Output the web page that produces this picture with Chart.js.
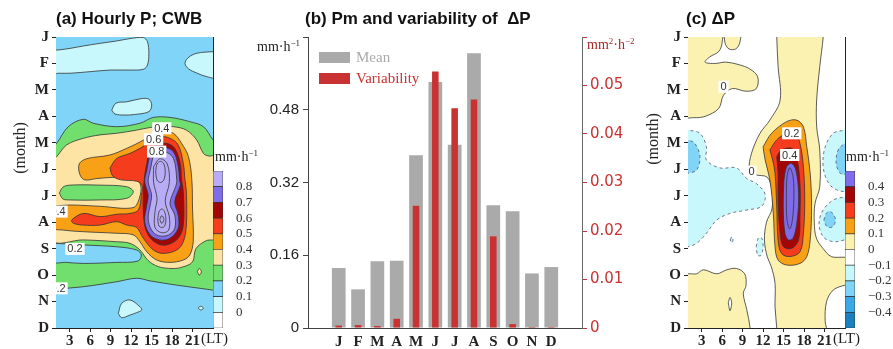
<!DOCTYPE html>
<html>
<head>
<meta charset="utf-8">
<script src="https://cdn.jsdelivr.net/npm/chart.js@4.4.1/dist/chart.umd.min.js"></script>
<style>
  body { margin:0; background:#fff; width:893px; height:349px; overflow:hidden; position:relative; font-family:'Liberation Serif', serif; }
  canvas { position:absolute; left:0; top:0; }
  .t { position:absolute; white-space:nowrap; color:#222; line-height:1; }
  .ttl { font-family:'Liberation Sans Narrow','Liberation Sans',sans-serif; font-weight:bold; font-size:17px; color:#111; }
  .unit { font-size:14px; }
  sup { font-size:9px; vertical-align:5px; line-height:0; }
</style>
</head>
<body>
<canvas id="mapA" width="893" height="349"></canvas>
<canvas id="barA" width="893" height="349"></canvas>
<canvas id="bars" width="893" height="349"></canvas>
<canvas id="mapC" width="893" height="349"></canvas>
<canvas id="barC" width="893" height="349"></canvas>

<div class="t ttl" style="left:56px;top:10px">(a) Hourly P; CWB</div>
<div class="t ttl" style="left:305px;top:10px">(b) Pm and variability of&nbsp; ΔP</div>
<div class="t ttl" style="left:686px;top:10px">(c) ΔP</div>
<div class="t" style="left:-30px;top:140px;width:100px;text-align:center;transform:rotate(-90deg);font-size:16px">(month)</div>
<div class="t" style="left:603px;top:131px;width:100px;text-align:center;transform:rotate(-90deg);font-size:16px">(month)</div>
<div class="t" style="left:201px;top:331px;font-size:15px">(LT)</div>
<div class="t" style="left:833px;top:331px;font-size:15px">(LT)</div>
<div class="t unit" style="left:215px;top:150px">mm·h<sup>−1</sup></div>
<div class="t unit" style="left:846px;top:150px">mm·h<sup>−1</sup></div>
<div class="t unit" style="left:257px;top:40px">mm·h<sup>−1</sup></div>
<div class="t unit" style="left:587px;top:38px;color:#a82828">mm<sup>2</sup>·h<sup>−2</sup></div>

<script>
// ---- panel (b) data ----
const months = ['J','F','M','A','M','J','J','A','S','O','N','D']
const meanP = [0.132, 0.085, 0.147, 0.148, 0.38, 0.541, 0.403, 0.604, 0.27, 0.257, 0.12, 0.134]
const varP = [0.0005, 0.0006, 0.0004, 0.0019, 0.0252, 0.0529, 0.0453, 0.0471, 0.0189, 0.0008, 0.0002, 0.0002]
const meanTicks = [0, 0.16, 0.32, 0.48, 0.64]
const varTicks = [0, 0.01, 0.02, 0.03, 0.04, 0.05, 0.06]

// ---- contour maps: x = local hour, y = month index (0 = Jan) ----
const hourTicks = [3, 6, 9, 12, 15, 18, 21]
const levelsA = [0, 0.1, 0.2, 0.3, 0.4, 0.5, 0.6, 0.7, 0.8]
const colorsA = ['#ffffff','#c8f8fb','#80d4f7','#70df6e','#fde4a4','#f8a016','#f53c1c','#a20606','#7f6ce8','#b8acf6']
const levelsC = [-0.4, -0.3, -0.2, -0.1, 0, 0.1, 0.2, 0.3, 0.4]
const colorsC = ['#1b7fc0','#3da8e6','#80d4f7','#c8f8fb','#ffffff','#fbf2b2','#f8a016','#f53c1c','#a20606','#7f6ce8']

// (a) hourly precipitation, contour outlines [hour, month]
const aFrame = [[0,-1],[25,-1],[25,12],[0,12]]
const aLow1 = [[0.5,0.5],[1.34,0.49],[3.05,0.43],[5.0,0.34],[7.45,0.24],[9.9,0.15],[11.84,0.06],[13.8,0.02],[14.4,0.18],[14.6,0.62],[14.4,1.06],[13.8,1.22],[11.84,1.25],[8.9,1.25],[6.0,1.31],[3.05,1.37],[1.34,1.37],[0.5,1.38]]
const aLow2 = [[24.5,0.55],[22.5,0.58],[21.2,0.65],[20.3,0.8],[19.9,1.0],[20.4,1.2],[21.6,1.36],[23.1,1.5],[24.5,1.52]]
const aLow3 = [[9.16,2.76],[9.8,2.5],[11.36,2.45],[13.5,2.33],[14.6,2.35],[15.02,2.57],[14.6,2.82],[12.5,2.93],[11,2.95],[9.64,2.91]]
const aLow4 = [[10.13,10.45],[10.62,10.07],[11.84,9.94],[13.3,10.2],[13.55,10.32],[12.8,10.42],[11.84,10.51],[10.62,10.61]]
const aLow5 = [[21.8,10.25],[22.2,10.18],[22.6,10.25],[22.2,10.32]]
const aGreen = [[0.5,4.1],[1,4.05],[2.8,3.39],[5.0,3.11],[6.46,3.26],[9.9,3.39],[13.3,3.26],[15.25,3.04],[17.7,3.04],[20.6,3.2],[22.6,3.39],[24,3.89],[24.5,4.0],[24.5,9.6],[24,9.57],[22.1,9.5],[18.7,9.38],[14.8,9.22],[12.8,9.12],[9.9,9.25],[5.0,9.44],[1,9.53],[0.5,9.55]]
const aBand = [[0.5,7.8],[2.5,7.82],[5,7.86],[9.9,7.93],[12.8,8.05],[13.5,8.24],[13.0,8.47],[9.9,8.52],[5,8.56],[2.5,8.52],[0.5,8.49]]
const aBeige = [[0.5,4.6],[1,4.55],[2.56,4.08],[5.0,3.83],[7.45,3.7],[9.9,3.64],[12.8,3.52],[14.8,3.42],[16.2,3.39],[18.2,3.39],[20.1,3.52],[21.6,3.89],[22.6,4.4],[23.4,4.5],[24.5,4.5],[24.5,7.6],[23,7.7],[21.5,8.0],[21,8.5],[19.5,8.7],[18,8.75],[16,8.68],[14.5,8.45],[13.3,8.05],[11.84,7.8],[9.9,7.74],[5,7.67],[0.5,7.67]]
const aStripe = [[1.5,5.9],[2,5.68],[3.05,5.6],[7.45,5.6],[11.35,5.66],[12.33,5.85],[11.35,6.1],[7.45,6.16],[3.05,6.16],[2,6.12]]
const aBeigeDot = [[21.7,8.87],[22.0,8.75],[22.3,8.87],[22.0,9.0]]
const aOrange = [[0.5,6.4],[3,6.35],[7.5,6.4],[12.3,6.45],[13.2,6.1],[13.4,5.6],[12.5,5.35],[10,5.3],[7,5.35],[5.2,5.4],[4.5,5.2],[4.4,4.8],[5.5,4.6],[8.9,4.46],[11.35,4.21],[13.8,3.9],[15.3,3.64],[16.7,3.58],[18.2,3.64],[19.4,4.02],[20.4,4.52],[20.9,5.4],[21.0,6.5],[21.1,7.74],[20.6,8.24],[19.65,8.43],[17.7,8.52],[15.75,8.43],[14.3,8.12],[13.3,7.74],[12.33,7.48],[9.9,7.42],[5,7.36],[2.07,7.3],[0.5,7.2]]
const aRed = [[8.9,4.95],[9.9,4.59],[11.84,4.4],[13.3,4.21],[14.5,4.02],[16.2,3.77],[17.7,3.83],[18.9,4.08],[19.65,4.78],[19.9,5.41],[20.1,5.85],[20.1,7.11],[19.65,7.74],[18.7,8.05],[16.7,8.18],[15.25,8.05],[13.8,7.61],[12.8,7.2],[11.35,7.11],[9.9,6.98],[7.45,7.11],[5.0,7.11],[3.54,7.04],[3.3,6.92],[5.0,6.67],[7.45,6.79],[9.9,6.7],[11.84,6.67],[13.06,6.54],[13.5,6.0],[13.6,5.6],[12.8,5.45],[10.5,5.4],[9.3,5.25]]
const aDark = [[14.3,4.78],[14.8,4.27],[15.75,4.08],[17.2,4.02],[18.4,4.21],[19.2,4.78],[19.4,5.41],[19.65,5.85],[19.65,7.11],[18.9,7.61],[17.2,7.86],[15.75,7.8],[14.5,7.48],[13.9,6.98],[13.8,5.85],[14.0,5.22]]
const aPurple = [[14.3,5.03],[14.8,4.4],[15.25,4.21],[16.7,4.15],[18.2,4.34],[18.9,4.9],[19.1,5.41],[19.2,5.6],[18.4,6.22],[18.9,6.73],[18.9,7.23],[17.7,7.61],[16.2,7.67],[14.8,7.48],[14.0,6.98],[14.3,6.35],[14.5,5.97],[14.0,5.47]]
const aLilac = [[14.8,5.03],[15.5,4.4],[16.97,4.34],[18.2,4.59],[18.7,5.41],[18.6,5.6],[17.7,6.29],[18.4,6.73],[18.4,7.23],[17.5,7.48],[16,7.51],[15,7.3],[14.5,6.86],[14.8,6.35],[15,5.97],[14.5,5.47]]
const aPeak1 = [[15.3,4.9],[16.2,4.6],[17.3,4.8],[17.6,5.5],[17.0,6.2],[17.6,6.8],[17.5,7.3],[16.5,7.4],[15.5,7.2],[15.5,6.6],[15.8,6.1],[15.3,5.5]]
const aPeak2 = [[15.6,5.1],[15.8,4.8],[16.3,4.7],[16.8,4.8],[17.0,5.1],[16.8,5.4],[16.3,5.5],[15.8,5.4]]
const aPeak3 = [[15.9,6.9],[16.1,6.6],[16.5,6.5],[16.9,6.6],[17.1,6.9],[16.9,7.15],[16.5,7.2],[16.1,7.15]]
const aPeak4 = [[16.2,6.9],[16.5,6.75],[16.8,6.9],[16.5,7.05]]
const aLabels = [{t:'0.4',h:16.5,m:3.45},{t:'0.6',h:15.3,m:3.87},{t:'0.8',h:15.75,m:4.33},{t:'0.4',h:1.3,m:6.6},{t:'0.2',h:3.78,m:8.01},{t:'0.2',h:1.3,m:9.5}]

// (c) Delta P, contour outlines [hour, month]
const cFrame = [[0,-1],[25,-1],[25,12],[0,12]]
const cPos1 = [[0.5,-0.5],[5.9,-0.5],[6.0,0.2],[5.5,0.55],[4.2,0.75],[3.5,0.95],[5.0,1.0],[6.5,0.95],[8.5,1.05],[10.0,1.2],[11.2,1.5],[11.0,1.95],[9.5,2.05],[7.5,1.95],[6.2,2.2],[5.5,2.7],[3.5,3.0],[1.8,3.05],[0.5,3.0]]
const cPos2 = [[6.3,-0.5],[6.4,0.2],[7.0,0.45],[8.0,0.45],[8.6,0.2],[8.7,-0.5]]
const cPos3 = [[14.0,-0.5],[14.0,0],[14.2,1.12],[14.5,2.38],[13.0,3.14],[11.55,3.64],[10.3,4.4],[10.0,5.0],[10.8,5.2],[12.6,5.3],[13.3,5.8],[13.3,6.5],[12.5,7.0],[12.2,7.67],[12.6,8.3],[13.2,8.68],[13.75,9.31],[13.75,10.2],[14.0,11.0],[14.0,11.5],[21.5,11.5],[21.1,10.76],[21.3,10.0],[22.3,9.56],[24.0,9.38],[24.5,9.38],[24.5,8.4],[22,8.3],[20.8,8.0],[19.8,7.6],[19.5,7.0],[19.6,6.3],[20.3,5.66],[20.3,4.27],[19.85,3.39],[19.85,2.38],[20.3,1.12],[20.8,0],[20.8,-0.5]]
const cPos4 = [[0.5,9.0],[1,8.95],[2.27,8.95],[3.25,8.8],[5.2,8.95],[6.7,8.8],[8.1,8.75],[9.3,8.95],[9.5,9.4],[9.1,9.69],[9.6,10.3],[10.1,11.0],[10.1,11.5],[0.5,11.5]]
const cHole = [[6.9,10.05],[7.15,9.85],[7.4,10.05],[7.15,10.35]]
const cNeg1 = [[0.5,3.5],[1,3.52],[2.75,3.64],[3.7,4.15],[3.7,4.65],[5.7,4.95],[8.1,4.95],[9.6,5.35],[11.06,5.55],[12.3,5.95],[11.8,6.4],[9.6,6.54],[7.15,6.67],[5.2,6.92],[3.7,7.42],[2.27,7.8],[1,7.93],[0.5,7.95]]
const cNeg1b = [[0.5,3.85],[1,3.89],[2.0,4.02],[2.75,4.52],[2.27,5.03],[1,5.15],[0.5,5.15]]
const cNeg2 = [[24.5,3.5],[24,3.52],[22.3,3.64],[21.1,4.15],[20.8,4.9],[21.6,5.53],[22.8,5.78],[24,5.85],[24.5,5.85]]
const cNeg2b = [[24.5,4.0],[24,4.02],[23.0,4.27],[22.7,4.78],[23.3,5.15],[24,5.2],[24.5,5.2]]
const cNeg3 = [[24.5,6.0],[24,6.04],[22.3,6.16],[20.8,6.54],[20.2,7.04],[20.8,7.55],[22.3,7.74],[24,7.67],[24.5,7.67]]
const cNeg3b = [[20.9,6.92],[21.3,6.65],[21.8,6.6],[22.3,6.7],[22.6,6.92],[22.3,7.15],[21.8,7.2],[21.3,7.15]]
const cNeg4 = [[7.2,7.67],[7.4,7.55],[7.6,7.67],[7.4,7.78]]
const cNeg5 = [[11.0,7.93],[11.3,7.6],[11.8,7.6],[12.0,7.93],[11.7,8.25],[11.2,8.25]]
const cOrange = [[12.0,4.15],[13.25,3.64],[15.45,3.2],[16.9,3.14],[17.9,3.39],[18.4,4.15],[18.9,5.15],[19.1,6.41],[18.9,7.67],[18.4,8.3],[17.4,8.56],[15.45,8.62],[14.2,8.43],[13.75,7.93],[13.5,6.67],[13.0,5.41],[12.3,4.65]]
const cRed = [[13.0,4.27],[14.0,3.89],[15.45,3.64],[16.7,3.64],[17.4,4.02],[17.9,4.9],[18.1,6.16],[17.9,7.42],[17.4,8.12],[15.9,8.3],[14.7,8.18],[14.2,7.67],[14.0,6.41],[13.75,5.15],[13.4,4.65]]
const cDark = [[14.0,4.52],[14.7,4.27],[16.2,4.21],[16.9,4.52],[17.4,5.53],[17.4,6.79],[17.2,7.67],[16.2,7.99],[15.0,7.93],[14.5,7.42],[14.2,6.16],[14.2,5.15]]
const cPurple = [[15.05,5.41],[15.45,4.9],[16.2,4.78],[16.8,5.03],[17.2,5.91],[17.0,6.92],[16.4,7.61],[15.7,7.67],[15.2,7.42],[14.95,6.41]]
const cPeak = [[15.4,6.1],[15.5,5.3],[15.9,4.95],[16.4,5.3],[16.5,6.1],[16.3,6.9],[15.9,7.25],[15.5,6.9]]
const cLabels = [{t:'0.2',h:16.2,m:3.64},{t:'0.4',h:15.9,m:4.46},{t:'0',h:6.2,m:1.88},{t:'0',h:10.3,m:5.09}]

// which colour band each outline fills (index into colorsA / colorsC), drawn in this order
const layersA = [
  {pts:aFrame, lev:2, lw:0, tension:0},
  {pts:aLow1, lev:1}, {pts:aLow2, lev:1}, {pts:aLow3, lev:1}, {pts:aLow4, lev:1}, {pts:aLow5, lev:1},
  {pts:aGreen, lev:3}, {pts:aBand, lev:2}, {pts:aBeige, lev:4}, {pts:aStripe, lev:3}, {pts:aBeigeDot, lev:4},
  {pts:aOrange, lev:5}, {pts:aRed, lev:6}, {pts:aDark, lev:7}, {pts:aPurple, lev:8}, {pts:aLilac, lev:9},
  {pts:aPeak1}, {pts:aPeak2}, {pts:aPeak3}, {pts:aPeak4}
]
const layersC = [
  {pts:cFrame, lev:4, lw:0, tension:0},
  {pts:cPos1, lev:5}, {pts:cPos2, lev:5}, {pts:cPos3, lev:5}, {pts:cPos4, lev:5}, {pts:cHole, lev:4},
  {pts:cNeg1, lev:3, dash:true}, {pts:cNeg1b, lev:2, dash:true}, {pts:cNeg2, lev:3, dash:true}, {pts:cNeg2b, lev:2, dash:true},
  {pts:cNeg3, lev:3, dash:true}, {pts:cNeg3b, lev:2, dash:true}, {pts:cNeg4, lev:3, dash:true}, {pts:cNeg5, lev:3, dash:true},
  {pts:cOrange, lev:6}, {pts:cRed, lev:7}, {pts:cDark, lev:8}, {pts:cPurple, lev:9}, {pts:cPeak}
]

Chart.defaults.animation = false
Chart.defaults.responsive = false
Chart.defaults.plugins.legend.display = false
Chart.defaults.plugins.tooltip.enabled = false

const serifBold = {family:'Liberation Serif', weight:'bold', size:15}

// white boxed numbers sitting on the contour lines
function contourLabels(items) {
  return {
    id: 'contourLabels',
    afterDatasetsDraw(chart) {
      const {ctx, chartArea: a, scales: {x, y}} = chart
      ctx.save()
      ctx.beginPath(); ctx.rect(a.left, a.top, a.width, a.height); ctx.clip()
      ctx.font = '11px "Liberation Sans"'
      ctx.textAlign = 'center'; ctx.textBaseline = 'middle'
      items.forEach(it => {
        const px = x.getPixelForValue(it.h), py = y.getPixelForValue(it.m)
        const w = ctx.measureText(it.t).width + 4
        ctx.fillStyle = '#fff'; ctx.fillRect(px - w / 2, py - 6, w, 12)
        ctx.fillStyle = '#333'; ctx.fillText(it.t, px, py + 0.5)
      })
      ctx.restore()
    }
  }
}

function mapChart(id, layers, colors, labels, left, right) {
  const datasets = layers.map((L, i) => {
    const pts = L.pts.concat([L.pts[0]])
    return {
      data: pts.map(p => ({x: p[0], y: p[1]})),
      showLine: true,
      fill: L.lev === undefined ? false : 'shape',
      backgroundColor: L.lev === undefined ? 'rgba(0,0,0,0)' : colors[L.lev],
      borderColor: L.dash ? '#556' : '#333',
      borderWidth: L.lw === undefined ? 0.8 : L.lw,
      borderDash: L.dash ? [3, 3] : [],
      pointRadius: 0,
      tension: L.tension === undefined ? 0.35 : L.tension,
      order: layers.length - i
    }
  })
  new Chart(document.getElementById(id), {
    type: 'scatter',
    data: {datasets},
    plugins: [contourLabels(labels)],
    options: {
      layout: {padding: {left: left - 44, right: 893 - right, top: 37, bottom: 0}},
      scales: {
        x: {
          type: 'linear', min: 1, max: 24,
          afterBuildTicks: s => { s.ticks = hourTicks.map(v => ({value: v})) },
          afterFit: s => { s.height = 21 },
          ticks: {font: serifBold, color: '#222', padding: 0, maxRotation: 0, autoSkip: false},
          grid: {drawOnChartArea: false, tickLength: 4, color: '#222'},
          border: {color: '#222', width: 1}
        },
        y: {
          type: 'linear', min: 0, max: 11, reverse: true,
          afterBuildTicks: s => { s.ticks = months.map((m, i) => ({value: i})) },
          afterFit: s => { s.width = 44 },
          ticks: {font: serifBold, color: '#222', padding: 3, callback: v => months[v]},
          grid: {drawOnChartArea: false, tickLength: 4, color: '#222'},
          border: {color: '#222', width: 1}
        },
        x2: {
          type: 'linear', position: 'top', min: 1, max: 24, display: true,
          afterFit: s => { s.height = 0 },
          ticks: {display: false}, grid: {display: false}, border: {color: '#222', width: 1}
        },
        y2: {
          type: 'linear', position: 'right', min: 0, max: 11, display: true,
          afterFit: s => { s.width = 0 },
          ticks: {display: false}, grid: {display: false}, border: {color: '#222', width: 1}
        }
      }
    }
  })
}

function colorBar(id, colors, levels, left) {
  new Chart(document.getElementById(id), {
    type: 'bar',
    data: {
      labels: [''],
      datasets: colors.map(c => ({
        data: [1], backgroundColor: c, borderColor: '#333', borderWidth: 0.7,
        borderSkipped: false, barPercentage: 1, categoryPercentage: 1
      }))
    },
    options: {
      layout: {padding: {left: left, right: 893 - left - 10 - 40, top: 171, bottom: 21}},
      scales: {
        x: {display: false, stacked: true},
        y: {
          stacked: true, position: 'right', min: 0, max: 10,
          afterBuildTicks: s => { s.ticks = levels.map((v, i) => ({value: i + 1})) },
          afterFit: s => { s.width = 40 },
          ticks: {
            font: {family: 'Liberation Serif', size: 13}, color: '#333', padding: 5,
            callback: v => String(levels[v - 1]).replace('-', '−')
          },
          grid: {display: false}, border: {display: false}
        }
      }
    }
  })
}

mapChart('mapA', layersA, colorsA, aLabels, 56, 213)
mapChart('mapC', layersC, colorsC, cLabels, 688, 845)
colorBar('barA', colorsA, levelsA, 213)
colorBar('barC', colorsC, levelsC, 845)

// legend inside the plot, top left
const barLegend = {
  id: 'barLegend',
  afterDraw(chart) {
    const {ctx, chartArea: a} = chart
    ctx.save()
    chart.data.datasets.forEach((ds, i) => {
      const y0 = a.top + 15 + i * 21
      ctx.fillStyle = ds.backgroundColor
      ctx.fillRect(a.left + 11, y0, 31, 11)
      ctx.font = '15px "Liberation Serif"'
      ctx.textBaseline = 'middle'
      ctx.fillText(ds.label, a.left + 48, y0 + 6)
    })
    ctx.restore()
  }
}

new Chart(document.getElementById('bars'), {
  type: 'bar',
  data: {
    datasets: [
      {label: 'Mean', data: meanP.map((v, i) => ({x: i + 1, y: v})), backgroundColor: '#aaaaaa',
       barPercentage: 0.71, categoryPercentage: 1, grouped: false, yAxisID: 'y', order: 2},
      {label: 'Variability', data: varP.map((v, i) => ({x: i + 1, y: v})), backgroundColor: '#c83232',
       barPercentage: 0.34, categoryPercentage: 1, grouped: false, yAxisID: 'y1', order: 1}
    ]
  },
  plugins: [barLegend],
  options: {
    layout: {padding: {left: 308 - 50, right: 893 - 582 - 50, top: 37, bottom: 0}},
    scales: {
      x: {
        type: 'linear', min: 0, max: 13,
        afterBuildTicks: s => { s.ticks = months.map((m, i) => ({value: i + 1})) },
        afterFit: s => { s.height = 21 },
        ticks: {font: serifBold, color: '#222', padding: 5, maxRotation: 0, autoSkip: false, callback: v => months[v - 1]},
        grid: {display: false, drawTicks: false},
        border: {color: '#444', width: 1}
      },
      y: {
        position: 'left', min: 0, max: 0.64,
        afterBuildTicks: s => { s.ticks = meanTicks.map(v => ({value: v})) },
        afterFit: s => { s.width = 50 },
        ticks: {font: {family: 'Liberation Sans', size: 15}, color: '#222', padding: 4,
                callback: (v, i) => i === meanTicks.length - 1 ? '' : (v === 0 ? '0' : v.toFixed(2))},
        grid: {drawOnChartArea: false, tickLength: 5, color: '#444'},
        border: {color: '#444', width: 1}
      },
      y1: {
        position: 'right', min: 0, max: 0.06,
        afterBuildTicks: s => { s.ticks = varTicks.map(v => ({value: v})) },
        afterFit: s => { s.width = 50 },
        ticks: {font: {family: 'DejaVu Sans', size: 15}, color: '#c83232', padding: 3,
                callback: (v, i) => i === varTicks.length - 1 ? '' : (v === 0 ? '0' : v.toFixed(2))},
        grid: {drawOnChartArea: false, tickLength: 5, color: '#c83232'},
        border: {color: '#666', width: 1}
      }
    }
  }
})
</script>
</body>
</html>
